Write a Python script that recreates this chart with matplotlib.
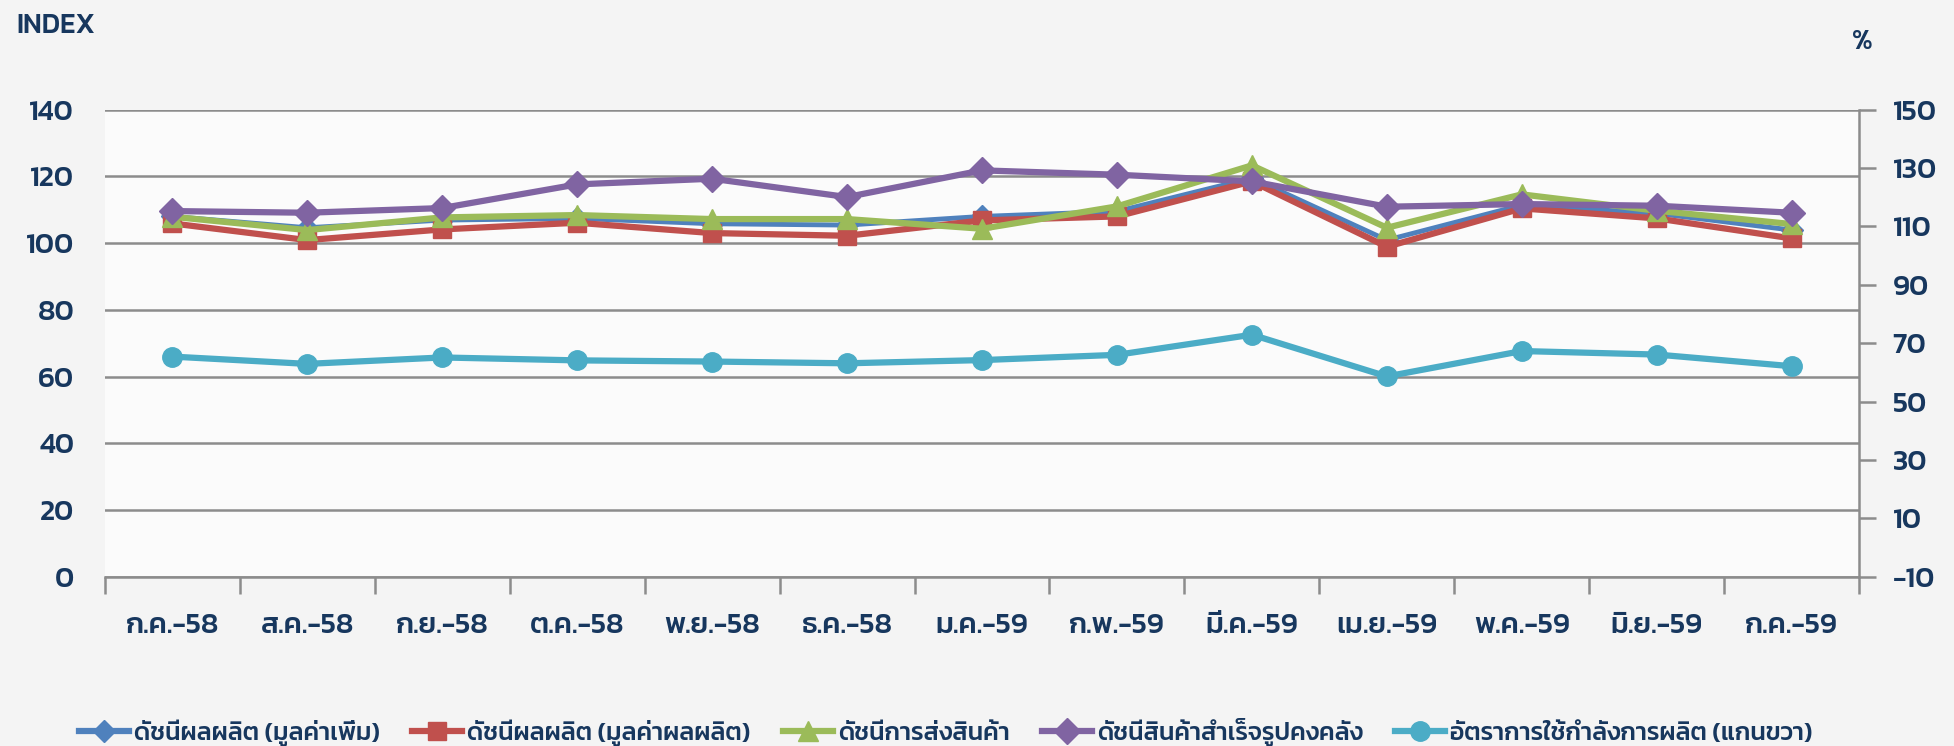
import matplotlib
matplotlib.use("Agg")
import matplotlib.pyplot as plt
from matplotlib.lines import Line2D
import numpy as np

plt.rcParams['font.family'] = ['Kanit', 'Prompt', 'Noto Sans Thai', 'Anuphan', 'DejaVu Sans']
plt.rcParams['font.weight'] = 'medium'

months = ['ก.ค.-58', 'ส.ค.-58', 'ก.ย.-58', 'ต.ค.-58', 'พ.ย.-58', 'ธ.ค.-58', 'ม.ค.-59',
          'ก.พ.-59', 'มี.ค.-59', 'เม.ย.-59', 'พ.ค.-59', 'มิ.ย.-59', 'ก.ค.-59']
mpi_value_added = [108.0, 104.6, 106.9, 107.4, 105.8, 105.4, 108.0, 109.5, 119.5, 100.9, 111.4, 108.9, 103.9]
mpi_gross_output = [105.9, 100.9, 104.1, 106.1, 103.0, 102.2, 106.8, 108.0, 118.5, 98.9, 110.4, 107.4, 101.4]
shipment_index = [107.9, 103.9, 107.7, 108.4, 107.2, 107.2, 104.3, 111.0, 123.3, 104.6, 114.6, 109.7, 105.7]
inventory_index = [109.6, 109.1, 110.5, 117.6, 119.3, 113.8, 121.8, 120.5, 118.5, 110.9, 111.7, 111.2, 109.1]
capacity_util = [65.4, 62.9, 65.1, 64.1, 63.7, 63.1, 64.2, 66.0, 72.9, 58.6, 67.3, 66.1, 62.1]

labels = ['ดัชนีผลผลิต (มูลค่าเพิ่ม)', 'ดัชนีผลผลิต (มูลค่าผลผลิต)', 'ดัชนีการส่งสินค้า',
          'ดัชนีสินค้าสำเร็จรูปคงคลัง', 'อัตราการใช้กำลังการผลิต (แกนขวา)']
left_ticks = [0, 20, 40, 60, 80, 100, 120, 140]
right_ticks = [-10, 10, 30, 50, 70, 90, 110, 130, 150]

navy = '#17375E'
grid_c = '#8C8C8C'
colors = ['#4F81BD', '#C0504D', '#9BBB59', '#8064A2', '#4BACC6']
markers = ['D', 's', '^', 'D', 'o']
msizes = [11, 13, 14, 13, 14]

fig = plt.figure(figsize=(19.54, 7.46), dpi=100, facecolor='#F4F4F4')
ax = fig.add_axes([0.0536, 0.227, 0.8979, 0.626])
ax.set_facecolor('#FBFBFB')
x = np.arange(len(months))

series = [mpi_value_added, mpi_gross_output, shipment_index, inventory_index]
for i, s in enumerate(series):
    ax.plot(x, s, color=colors[i], lw=4.5 if i else 3.5, marker=markers[i], ms=msizes[i],
            zorder=3 + (i == 2) * 0.5 + (i == 3) * 0.6, solid_joinstyle='round')

ax.set_xlim(-0.5, len(months) - 0.5)
ax.set_ylim(0, 140)
ax.set_yticks(left_ticks)
ax.yaxis.grid(True, color=grid_c, lw=1.8)
ax.set_axisbelow(True)
ax.tick_params(axis='y', length=0, labelsize=21, labelcolor=navy, pad=22)
ax.set_xticks(x)
ax.set_xticklabels(months)
ax.set_xticks(np.arange(-0.5, len(months), 1), minor=True)
ax.tick_params(axis='x', which='major', length=0, labelsize=21, labelcolor=navy, pad=26)
ax.tick_params(axis='x', which='minor', length=12, width=1.8, color=grid_c, direction='out')
for sp in ['left', 'top', 'right']:
    ax.spines[sp].set_visible(False)
ax.spines['bottom'].set_color(grid_c)
ax.spines['bottom'].set_linewidth(1.8)

ax2 = ax.twinx()
ax2.plot(x, capacity_util, color=colors[4], lw=4.5, marker='o', ms=14, zorder=3)
ax2.set_ylim(-10, 150)
ax2.set_yticks(right_ticks)
ax2.tick_params(axis='y', length=12, width=1.8, color=grid_c, direction='out',
                labelsize=21, labelcolor=navy, pad=12)
for sp in ['left', 'top', 'bottom']:
    ax2.spines[sp].set_visible(False)
ax2.spines['right'].set_color(grid_c)
ax2.spines['right'].set_linewidth(1.8)

fig.text(0.0085, 0.965, 'INDEX', fontsize=20, color=navy, ha='left', va='center')
fig.text(0.953, 0.944, '%', fontsize=20, color=navy, ha='center', va='center')

handles = [Line2D([], [], color=colors[i], lw=4.5, marker=markers[i], ms=msizes[i]) for i in range(5)]
fig.legend(handles, labels, loc='center', bbox_to_anchor=(0.484, 0.018), ncol=5, frameon=False,
           fontsize=18, labelcolor=navy, handlelength=2.0, handletextpad=0.2, columnspacing=1.3)

fig.savefig('out.png', dpi=100, facecolor=fig.get_facecolor())
